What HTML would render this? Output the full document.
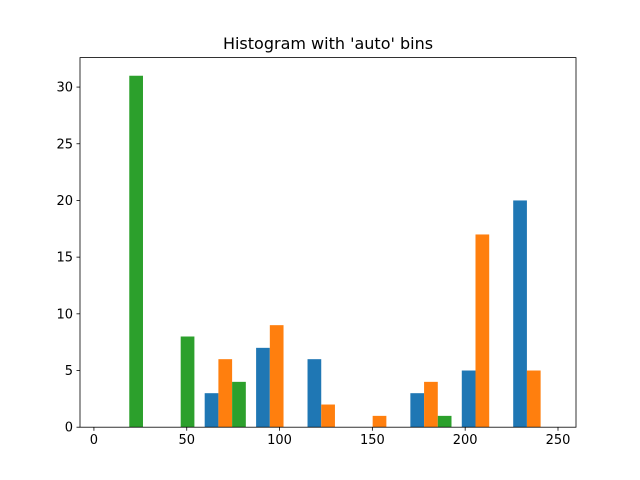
<!DOCTYPE html>
<html><head><meta charset="utf-8"><style>
html,body{margin:0;padding:0;background:#fff;}
svg{display:block;font-family:"DejaVu Sans","Liberation Sans",sans-serif;}
</style></head><body>
<svg id="chart" width="640" height="480">
<rect x="0" y="0" width="640" height="480" fill="#fff"/>
<text x="328" y="49" text-anchor="middle" font-size="16" fill="#000">Histogram with 'auto' bins</text>
</svg>
<script>
const binStart = 1.5;
const binWidth = 27.7;
const seriesBlue = [0, 0, 3, 7, 6, 0, 3, 5, 20];
const seriesOrange = [0, 0, 6, 9, 2, 1, 4, 17, 5];
const seriesGreen = [31, 8, 4, 0, 0, 0, 1, 0, 0];
const xTicks = [0, 50, 100, 150, 200, 250];
const yTicks = [0, 5, 10, 15, 20, 25, 30];
const colors = ['#1f77b4', '#ff7f0e', '#2ca02c'];
const seriesNames = ['blue', 'orange', 'green'];

const L = 80, R = 576, T = 57.6, B = 427.2;
const xMin = -7.5, xMax = 259.7, yMax = 32.6;
const svg = document.getElementById('chart');
const NS = 'http://www.w3.org/2000/svg';
function sx(v) { return L + (v - xMin) / (xMax - xMin) * (R - L); }
function sy(v) { return B - v / yMax * (B - T); }
function mk(tag, attrs) {
  const e = document.createElementNS(NS, tag);
  for (const k in attrs) e.setAttribute(k, attrs[k]);
  svg.appendChild(e);
  return e;
}
const all = [seriesBlue, seriesOrange, seriesGreen];
all.forEach((s, si) => {
  s.forEach((v, i) => {
    if (v <= 0) return;
    const bw = binWidth * 0.8 / 3;
    const x0 = binStart + i * binWidth + binWidth * 0.1 + si * bw;
    const r = mk('rect', {x: sx(x0), y: sy(v), width: sx(x0 + bw) - sx(x0), height: B - sy(v), fill: colors[si]});
    
    
  });
});
const frame = mk('rect', {x: L, y: T, width: R - L, height: B - T, fill: 'none', stroke: '#000', 'stroke-width': 0.8});


xTicks.forEach(t => {
  const x = sx(t);
  const tk = mk('line', {x1: x, x2: x, y1: B, y2: B + 3.5, stroke: '#000', 'stroke-width': 0.8});
  
  
  const lb = mk('text', {x: x, y: B + 17, 'text-anchor': 'middle', 'font-size': 13, fill: '#000'});
  lb.textContent = t;
  
  
});
yTicks.forEach(t => {
  const y = sy(t);
  const tk = mk('line', {x1: L - 3.5, x2: L, y1: y, y2: y, stroke: '#000', 'stroke-width': 0.8});
  
  
  const lb = mk('text', {x: L - 7, y: y + 4.5, 'text-anchor': 'end', 'font-size': 13, fill: '#000'});
  lb.textContent = t;
  
  
});
</script>
</body></html>
